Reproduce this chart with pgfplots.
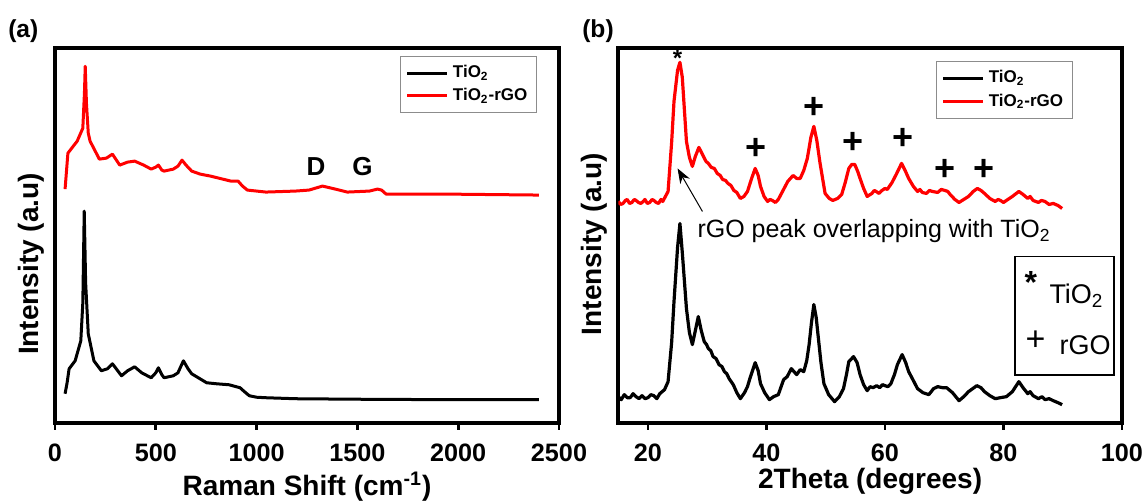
\documentclass[border=0pt]{standalone}
\usepackage{fontspec}
\setmainfont{Liberation Sans}
\usepackage{pgfplots}
\pgfplotsset{compat=1.18}
\usetikzlibrary{arrows.meta}
\pgfplotsset{
  myax/.style={
    scale only axis,
    axis line style={line width=2pt},
    ytick=\empty,
    xtick pos=bottom,
    tick align=outside,
    major tick length=3.5pt,
    every tick/.style={line width=1.4pt, black},
    /pgf/number format/assume math mode=true,
    /pgf/number format/1000 sep={},
    xticklabel={\fontsize{12.6}{14}\selectfont\bfseries\pgfmathprintnumber{\tick}},
    xticklabel style={inner sep=0pt, anchor=center, yshift=-11.5pt},
    label style={font=\fontsize{14}{16}\selectfont\bfseries, inner sep=0pt},
    legend cell align=left,
    legend image code/.code={\draw[##1] (0pt,0pt) -- (20pt,0pt);},
  }
}
\begin{document}
\begin{tikzpicture}
\useasboundingbox (0,0) rectangle (573.5pt,251pt);
\node[font=\fontsize{12.3}{14}\selectfont\bfseries] at (11.65pt,235.5pt) {(a)};
\node[font=\fontsize{12.3}{14}\selectfont\bfseries] at (299pt,235.5pt) {(b)};
% ---------------- (a) Raman ----------------
\begin{axis}[myax,
  at={(27.5pt,39.65pt)}, anchor=south west,
  width=252pt, height=187.2pt,
  xmin=0, xmax=2500, ymin=0, ymax=375,
  xtick={0,500,1000,1500,2000,2500},
  xlabel={Raman Shift (cm\textsuperscript{-1})},
  ylabel={Intensity (a.u)},
  xlabel style={at={(rel axis cs:0.5,-0.195)}, anchor=base},
  ylabel style={at={(rel axis cs:-0.048,0.424)}, anchor=center},
  legend style={at={(0.956,0.979)}, anchor=north east,
    font=\fontsize{8.5}{10}\selectfont\bfseries, draw=black!45, line width=0.5pt,
    inner sep=2.5pt, row sep=-0.5pt},
]
\addplot[black, line width=1.5pt, line join=round] coordinates {
(50,29) (60,40) (70,54) (100,62) (128,82) (138,120) (145,212) (152,140) (165,89)
(193,62) (230,52) (260,54) (285,59) (330,47) (360,52) (395,56) (430,50) (477,45)
(500,50) (513,55) (530,48) (541,45) (587,47) (610,50) (637,62) (660,54) (678,49)
(752,40) (800,39) (863,38) (918,35) (940,31) (964,27) (1000,25.5) (1046,25)
(1193,24) (1500,23.5) (2000,23) (2400,23)};
\addlegendentry{TiO\textsubscript{2}}
\addplot[red, line width=1.5pt, line join=round] coordinates {
(50,234) (64,270) (110,282) (138,295) (146,330) (150,357) (156,320) (165,290)
(174,282) (220,264) (255,265) (285,269) (321,258) (360,261) (395,262) (440,258)
(477,254) (500,256) (513,258) (530,253) (541,252) (587,254) (610,257) (630,263)
(650,258) (678,252) (720,249) (771,247) (872,242) (908,242) (930,237) (954,233)
(1046,231) (1193,232) (1260,233) (1327,237) (1390,234) (1450,231) (1560,232)
(1600,234) (1620,233) (1642,229) (1800,229) (1927,229) (2400,228)};
\addlegendentry{TiO\textsubscript{2}-rGO}
\node[font=\fontsize{13}{15}\selectfont\bfseries] at (axis cs:1295,257) {D};
\node[font=\fontsize{13}{15}\selectfont\bfseries] at (axis cs:1525,257) {G};
\end{axis}
% ---------------- (b) XRD ----------------
\begin{axis}[myax,
  at={(309.15pt,39.65pt)}, anchor=south west,
  width=251.85pt, height=187.2pt,
  xmin=15, xmax=100, ymin=0, ymax=374,
  xtick={20,40,60,80,100},
  xlabel={2Theta (degrees)},
  ylabel={Intensity (a.u)},
  xlabel style={at={(rel axis cs:0.5,-0.175)}, anchor=base},
  ylabel style={at={(rel axis cs:-0.048,0.477)}, anchor=center},
  legend style={at={(0.902,0.966)}, anchor=north east,
    font=\fontsize{8.5}{10}\selectfont\bfseries, draw=black!45, line width=0.5pt,
    inner sep=2.5pt, row sep=0pt},
]
\addplot[black, line width=1.6pt, line join=round] coordinates {
(15,26) (15.5,23) (16,28) (16.5,25) (17,25) (17.5,29) (18,26) (18.5,24) (19,27) (19.5,24)
(20,25) (20.5,28) (21,27) (21.5,24) (22,29) (22.8,33)
(23.4,41) (24,80) (24.4,121) (25,175) (25.4,199) (25.8,170) (26.5,114) (27,90)
(27.5,78) (28,92) (28.5,106) (29,92) (29.5,81) (29.9,78) (30.2,74) (30.6,72) (31,66) (31.5,64) (32,58) (32.5,56) (32.9,51)
(33.3,49) (33.7,44) (34.4,38) (35,30) (35.6,24) (36.3,30) (36.8,36) (37.2,44) (38.1,60) (38.6,52)
(39,39) (39.7,30) (40.5,23) (41.2,26) (42,28) (42.9,43) (43.5,46) (44.2,54)
(45.1,48) (45.7,53) (46.3,51) (46.8,62) (47.2,78) (47.6,100) (48,118) (48.4,105)
(48.7,88) (49.2,60) (49.7,39) (50.5,28) (51.5,21) (52.3,26) (53,34) (53.5,48)
(53.9,61) (54.7,66) (55.3,60) (55.8,48) (56.4,38) (57,32) (57.5,36) (58,35) (58.6,37) (59.1,35)
(59.6,38) (60,37) (60.5,36) (61,39) (61.6,48) (62.1,58) (62.9,68) (63.5,60) (64,51) (64.8,42)
(65.5,34) (66.4,30) (67.4,28) (68.2,34) (68.9,36) (69.7,35) (70.4,35) (71.4,30)
(72.5,22) (73.3,26) (74.1,31) (75.5,37) (76.2,35) (76.8,31) (77.7,27) (78.6,24)
(79.5,25) (80.5,26) (81.5,31) (82.6,41) (83.3,35) (84.1,29) (84.5,31) (85,27) (85.9,24)
(86.5,26) (87,23) (87.7,24) (88.4,22) (89.2,20) (89.9,18)};
\addlegendentry{TiO\textsubscript{2}}
\addplot[red, line width=1.6pt, line join=round] coordinates {
(15,221) (15.4,218) (15.8,219) (16.2,222) (16.5,223) (16.9,219) (17.3,220) (17.7,223) (18,222) (18.4,220) (18.8,219)
(19.2,221) (19.5,223) (19.9,219) (20.3,220) (20.7,223)
(21,222) (21.4,220) (21.8,219) (22.2,223) (22.5,221) (23.4,231) (24,280) (24.4,321) (25,352) (25.4,360)
(25.8,345) (26.5,281) (27,265) (27.5,256) (28,266) (28.6,275) (29.2,268) (29.8,261)
(30.2,259) (30.7,255) (31.2,254) (31.7,249) (32.2,247) (32.6,243) (33.1,242) (33.5,239) (34,237) (34.5,232) (35,230) (35.6,224) (36.2,226)
(36.8,231) (37.5,244) (38.1,254) (38.6,247) (39,236) (39.6,226) (40.2,221) (40.6,223) (41,222)
(41.5,220) (42,223) (42.8,232) (43.6,241) (44.5,247) (45.1,244) (45.7,244) (46.3,252)
(46.9,264) (47.5,285) (48,296) (48.5,282) (49,261) (49.5,243) (49.9,229) (50.6,224)
(51.2,222) (52,224) (52.7,228) (53.3,240) (53.9,254) (54.4,258) (54.9,258)
(55.4,251) (55.8,244) (56.4,234) (57,226) (57.8,229) (58.2,232) (58.5,231) (59,229) (59.5,232)
(60,234) (60.4,233) (61.2,240) (61.9,248) (62.8,259) (63.4,252) (64,244) (64.8,236)
(65.5,231) (65.9,233) (66.3,230) (67,229) (67.5,232) (68,231) (68.9,230) (69.5,233) (70.1,232) (70.6,231)
(71,228) (71.8,223) (72.5,220) (73.3,223) (74.1,226) (74.9,231) (75.6,234)
(76.2,232) (76.8,229) (77.7,224) (78.6,221) (79.1,223) (79.5,222) (80,220) (80.5,222) (81.5,226)
(82.6,231) (83.3,228) (84.1,224) (84.5,226) (85,222) (85.9,220) (86.4,222) (87,221) (87.7,218) (88.4,219)
(89.2,217) (89.9,214)};
\addlegendentry{TiO\textsubscript{2}-rGO}
% peak markers
\node[font=\fontsize{12}{12}\selectfont\bfseries] at (axis cs:25.0,364) {*};
\node[font=\fontsize{18}{18}\selectfont\bfseries, inner sep=0pt] at (axis cs:38.2,273) {+};
\node[font=\fontsize{18}{18}\selectfont\bfseries, inner sep=0pt] at (axis cs:48.0,314) {+};
\node[font=\fontsize{18}{18}\selectfont\bfseries, inner sep=0pt] at (axis cs:54.6,279) {+};
\node[font=\fontsize{18}{18}\selectfont\bfseries, inner sep=0pt] at (axis cs:63.0,283) {+};
\node[font=\fontsize{18}{18}\selectfont\bfseries, inner sep=0pt] at (axis cs:70.1,252) {+};
\node[font=\fontsize{18}{18}\selectfont\bfseries, inner sep=0pt] at (axis cs:76.8,252) {+};
% annotation arrow and text
\draw[black, line width=0.5pt, -{Stealth[length=7.5pt,width=5.5pt]}] (axis cs:29.2,211) -- (axis cs:25.0,254);
\node[anchor=west, font=\fontsize{12.5}{14}\selectfont, inner sep=0pt] at (axis cs:28.3,191)
  {rGO peak overlapping with TiO\textsubscript{2}};
% marker key box
\draw[black, line width=0.9pt] (axis cs:81.9,47.9) rectangle (axis cs:98.6,166);
\node[font=\fontsize{16}{16}\selectfont\bfseries, inner sep=0pt] at (axis cs:84.6,140) {*};
\node[anchor=base west, font=\fontsize{13.5}{15}\selectfont, inner sep=0pt] at (axis cs:87.7,119) {TiO\textsubscript{2}};
\node[font=\fontsize{17}{17}\selectfont, inner sep=0pt] at (axis cs:85.4,82) {+};
\node[anchor=base west, font=\fontsize{13.5}{15}\selectfont, inner sep=0pt] at (axis cs:89.4,68) {rGO};
\end{axis}
\end{tikzpicture}
\end{document}
